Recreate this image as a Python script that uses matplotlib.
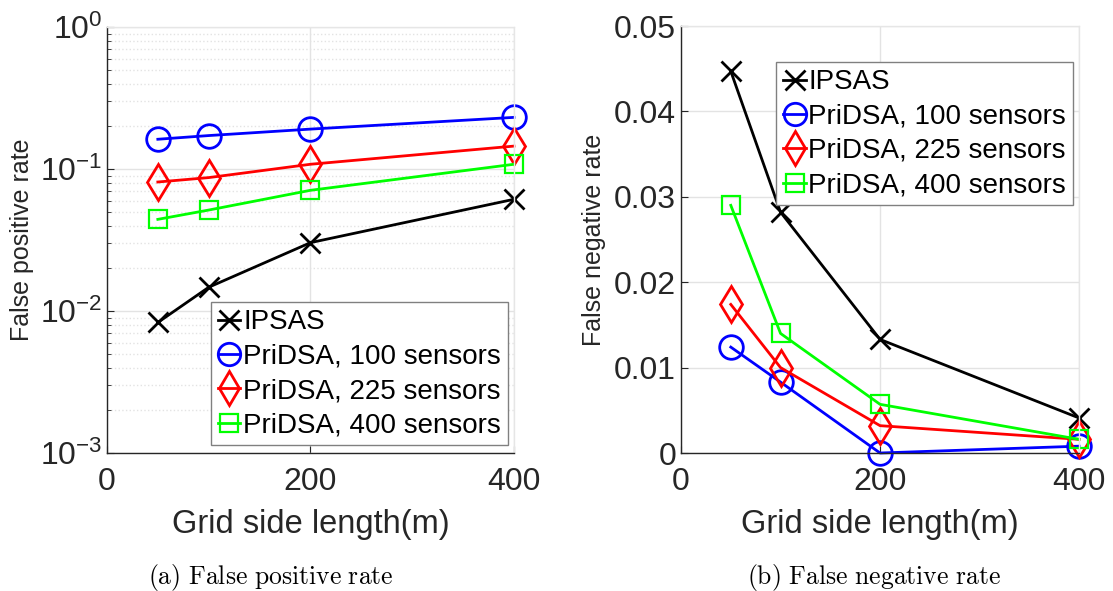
import numpy as np
import matplotlib.pyplot as plt
from matplotlib.ticker import LogLocator, NullFormatter

plt.rcParams['font.family'] = ['Liberation Sans', 'DejaVu Sans']
plt.rcParams['mathtext.fontset'] = 'custom'
plt.rcParams['mathtext.rm'] = 'Liberation Sans'
plt.rcParams['mathtext.it'] = 'Liberation Sans:italic'

# DATA
grid_len = [50, 100, 200, 400]
labels = ['IPSAS', 'PriDSA, 100 sensors', 'PriDSA, 225 sensors', 'PriDSA, 400 sensors']

fp_ipsas = [0.0083, 0.0147, 0.0303, 0.0612]
fp_100 = [0.162, 0.172, 0.191, 0.231]
fp_225 = [0.081, 0.087, 0.108, 0.145]
fp_400 = [0.0442, 0.0514, 0.0708, 0.108]

fn_ipsas = [0.0447, 0.0282, 0.0133, 0.0041]
fn_100 = [0.0124, 0.0083, 0.0, 0.0008]
fn_225 = [0.0174, 0.0100, 0.0032, 0.0016]
fn_400 = [0.0290, 0.0140, 0.0057, 0.0016]

styles = [
    dict(color='black', marker='x', markersize=15, mew=2),
    dict(color='#0000ff', marker='o', markersize=17, mfc='none', mew=2),
    dict(color='#ff0000', marker='d', markersize=18, mfc='none', mew=2),
    dict(color='#00ff00', marker='s', markersize=13, mfc='none', mew=1.6),
]

TXT = '#262626'

fig = plt.figure(figsize=(11.13, 5.91), dpi=100)
ax1 = fig.add_axes([0.0961, 0.2335, 0.3657, 0.7208])
ax2 = fig.add_axes([0.6119, 0.2335, 0.3576, 0.7225])


def style_axes(ax):
    for s in ['left', 'bottom']:
        ax.spines[s].set_color(TXT)
        ax.spines[s].set_linewidth(1.0)
    for s in ['top', 'right']:
        ax.spines[s].set_color('#e6e6e6')
        ax.spines[s].set_linewidth(1.0)
    ax.tick_params(which='both', direction='in', colors=TXT, labelsize=23,
                   top=False, right=False)
    ax.tick_params(which='major', length=5)
    ax.tick_params(which='minor', length=3)
    ax.tick_params(axis='x', pad=10)
    ax.set_xlim(0, 400)
    ax.set_xticks([0, 200, 400])
    ax.set_xlabel('Grid side length(m)', fontsize=23.5, color=TXT, labelpad=9)
    ax.set_axisbelow(True)


def add_legend(ax, **kw):
    leg = ax.legend(fontsize=20, handlelength=0.8, handletextpad=0.1,
                    borderpad=0.25, labelspacing=0.3, borderaxespad=0,
                    fancybox=False, framealpha=1, edgecolor='#808080',
                    markerscale=0.95, **kw)
    leg.get_frame().set_linewidth(1)
    for t in leg.get_texts():
        t.set_color('black')
    return leg


# (a) false positive
for ys, st, lb in zip([fp_ipsas, fp_100, fp_225, fp_400], styles, labels):
    ax1.plot(grid_len, ys, linewidth=2, label=lb, clip_on=False, **st)
ax1.set_yscale('log')
ax1.set_ylim(1e-3, 1e0)
ax1.yaxis.set_minor_locator(LogLocator(base=10, subs=np.arange(2, 10)))
ax1.yaxis.set_minor_formatter(NullFormatter())
style_axes(ax1)
ax1.tick_params(axis='x', which='minor', bottom=False)
ax1.grid(True, which='major', color='#e3e3e3', linewidth=1)
ax1.grid(True, which='minor', axis='y', color='#e3e3e3', linestyle=':', linewidth=1)
ax1.set_ylabel('False positive rate', fontsize=18, color=TXT, labelpad=4)
add_legend(ax1, loc='lower right', bbox_to_anchor=(0.985, 0.018))

# (b) false negative
for ys, st, lb in zip([fn_ipsas, fn_100, fn_225, fn_400], styles, labels):
    ax2.plot(grid_len, ys, linewidth=2, label=lb, clip_on=False, **st)
ax2.set_ylim(0, 0.05)
ax2.set_yticks([0, 0.01, 0.02, 0.03, 0.04, 0.05])
ax2.set_yticklabels(['0', '0.01', '0.02', '0.03', '0.04', '0.05'])
style_axes(ax2)
ax2.grid(True, which='major', color='#e3e3e3', linewidth=1)
ax2.set_ylabel('False negative rate', fontsize=18, color=TXT, labelpad=6)
add_legend(ax2, loc='upper right', bbox_to_anchor=(0.985, 0.915))

# captions
fig.text(0.243, 0.012, r'$\mathrm{(a)\ False\ positive\ rate}$', ha='center',
         fontsize=18.5, math_fontfamily='cm')
fig.text(0.785, 0.012, r'$\mathrm{(b)\ False\ negative\ rate}$', ha='center',
         fontsize=18.5, math_fontfamily='cm')

fig.savefig('out.png', dpi=100)
